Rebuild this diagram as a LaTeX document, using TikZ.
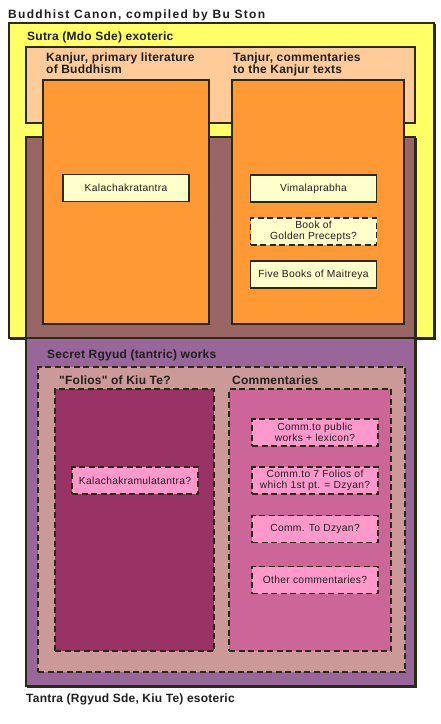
\documentclass[tikz,border=0pt]{standalone}
\usepackage{fontspec}
\setmainfont{Liberation Sans}
\definecolor{edge}{HTML}{2A2A14}
\definecolor{txt}{HTML}{1E1E1E}
\definecolor{yel}{HTML}{FFFF66}
\definecolor{peach}{HTML}{FFCC99}
\definecolor{orng}{HTML}{FF9933}
\definecolor{cream}{HTML}{FFFFCC}
\definecolor{brwn}{HTML}{996666}
\definecolor{purp}{HTML}{996699}
\definecolor{rose}{HTML}{CC9999}
\definecolor{maroon}{HTML}{993366}
\definecolor{pinkm}{HTML}{CC6699}
\definecolor{pinkl}{HTML}{FF99CC}
\newfontfamily\headfont[LetterSpace=2]{Liberation Sans}
\newfontfamily\titlefont[LetterSpace=11]{Liberation Sans}
\newfontfamily\boxfont[LetterSpace=3]{Liberation Sans}
\begin{document}
\begin{tikzpicture}[x=1pt,y=-1pt,
  region/.style={draw=edge, line width=1.2pt, anchor=north west, inner sep=0pt, outer sep=0pt},
  dregion/.style={region, line width=1.8pt, dash pattern=on 6pt off 3.5pt},
  head/.style={anchor=base west, inner sep=0pt, text=txt, font=\headfont\bfseries\fontsize{12}{13}\selectfont},
  headtwo/.style={anchor=north west, inner sep=0pt, text=txt, align=left, font=\headfont\bfseries\fontsize{12}{12.5}\selectfont},
  boxa/.style={draw=edge, line width=1.8pt, fill=cream, minimum width=126pt, minimum height=27pt, inner sep=1pt, align=center, text=txt, font=\boxfont\fontsize{10.3}{11}\selectfont},
  dboxa/.style={boxa, dash pattern=on 6pt off 3.5pt},
  dboxp/.style={dboxa, fill=pinkl}
]
\useasboundingbox (0,0) rectangle (440,724);
% title
\node[head, font=\titlefont\bfseries\fontsize{12}{13}\selectfont] (title) at (8,18.3) {Buddhist Canon, compiled by Bu Ston};
% sutra region (yellow)
\node[region, fill=black!75, minimum width=425pt, minimum height=315pt] (sutrash) at (10.5,24.5) {};
\node[region, fill=yel, minimum width=425pt, minimum height=315pt] (sutra) at (9,23) {};
\node[head] (sutralab) at (27,40) {Sutra (Mdo Sde) exoteric};
% tantra region (purple, brown where it overlaps the sutra)
\node[region, fill=black!75, minimum width=389pt, minimum height=549pt] (tantrash) at (27.5,138.5) {};
\node[region, fill=purp, minimum width=389pt, minimum height=549pt] (tantra) at (26,137) {};
\fill[brwn] (tantra.north west) rectangle (415,338);
\draw[edge, line width=1.2pt] (tantra.north west) rectangle (tantra.south east);
\draw[edge, line width=1.2pt] (tantra.west |- 0,338) -- (tantra.east |- 0,338);
% peach band
\node[region, fill=peach, line width=1.5pt, minimum width=389pt, minimum height=76pt] (band) at (26,47) {};
% Kanjur / Tanjur
\node[region, fill=orng, minimum width=166pt, minimum height=244pt] (kanjur) at (43,80) {};
\node[region, fill=orng, minimum width=172pt, minimum height=244pt] (tanjur) at (232,80) {};
\node[headtwo] (kanjurlab) at (46,52.5) {Kanjur, primary literature\\of Buddhism};
\node[headtwo] (tanjurlab) at (233,52.5) {Tanjur, commentaries\\to the Kanjur texts};
% sutra boxes
\node[boxa] (kal) at (126,188) {Kalachakratantra};
\node[boxa] (vim) at (313.5,188.5) {Vimalaprabha};
\node[dboxa] (gold) at (313.5,231.5) {Book of\\Golden Precepts?};
\node[boxa] (five) at (313.5,274.5) {Five Books of Maitreya};
% tantra contents
\node[head] (secret) at (47,358) {Secret Rgyud (tantric) works};
\node[dregion, fill=rose, minimum width=367pt, minimum height=305pt] (rgyud) at (38,367) {};
\node[head] (folioslab) at (59,384) {"Folios" of Kiu Te?};
\node[head] (commlab) at (232,384) {Commentaries};
\node[dregion, fill=maroon, minimum width=159pt, minimum height=262pt] (folios) at (55,389) {};
\node[dregion, fill=pinkm, minimum width=162pt, minimum height=262pt] (comms) at (229,389) {};
\node[dboxp] (kalm) at (135,480.5) {Kalachakramulatantra?};
\node[dboxp] (c1) at (315,432.5) {Comm.to public\\works + lexicon?};
\node[dboxp] (c2) at (315,480.5) {Comm.to 7 Folios of\\which 1st pt. = Dzyan?};
\node[dboxp] (c3) at (315,529) {Comm. To Dzyan?};
\node[dboxp] (c4) at (315,580) {Other commentaries?};
\node[head] (tantralab) at (26,702) {Tantra (Rgyud Sde, Kiu Te) esoteric};
\end{tikzpicture}
\end{document}
